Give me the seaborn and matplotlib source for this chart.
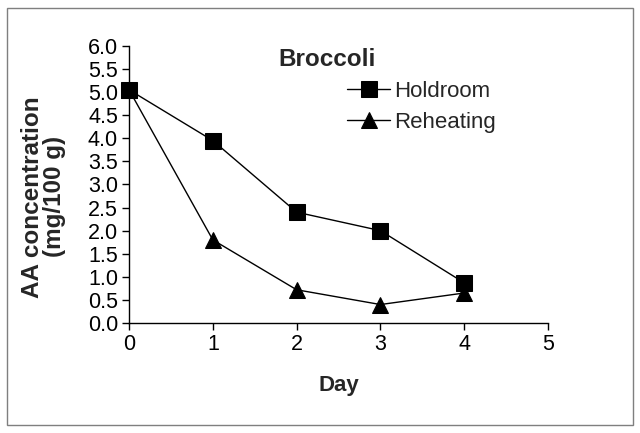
import pandas as pd
import numpy as np
import matplotlib.pyplot as plt
import seaborn as sns
from matplotlib.patches import Rectangle

sns.set_style('white')
plt.rcParams['font.family'] = ['Liberation Sans', 'DejaVu Sans']

days = [0, 1, 2, 3, 4]
holdroom = [5.05, 3.95, 2.40, 2.00, 0.87]
reheating = [5.05, 1.80, 0.72, 0.40, 0.65]
series_names = ['Holdroom', 'Reheating']
series_markers = ['s', '^']

df = pd.DataFrame({
    'Day': days * 2,
    'AA': holdroom + reheating,
    'Treatment': [series_names[0]] * len(days) + [series_names[1]] * len(days),
})

fig = plt.figure(figsize=(6.4, 4.33), dpi=100)
ax = fig.add_axes([0.2016, 0.254, 0.6547, 0.640])

# one line per treatment, black with filled markers
for name, mk in zip(series_names, series_markers):
    sub = df[df['Treatment'] == name]
    sns.lineplot(data=sub, x='Day', y='AA', ax=ax, color='black', lw=1,
                 marker=mk, markersize=11.5, markeredgecolor='black',
                 label=name, clip_on=False)

ax.set_xlim(0, 5)
ax.set_ylim(0, 6)
ax.set_xticks(range(0, 6))
ax.set_yticks(np.arange(0, 6.01, 0.5))
ax.set_yticklabels([f'{v:.1f}' for v in np.arange(0, 6.01, 0.5)])
ax.tick_params(axis='both', direction='out', length=5, width=1, labelsize=15.5,
               color='black', labelcolor='black', left=True, bottom=True, pad=3)
sns.despine(ax=ax)
for s in ['left', 'bottom']:
    ax.spines[s].set_color('black')
    ax.spines[s].set_linewidth(1)

ax.set_xlabel('Day', fontsize=16, fontweight='bold', labelpad=14)
ax.set_ylabel('AA concentration\n(mg/100 g)', fontsize=17.5, fontweight='bold',
              linespacing=0.95)
ax.yaxis.set_label_coords(-0.15, 0.455)

ax.text(0.4726, 0.95, 'Broccoli', transform=ax.transAxes, fontsize=17.5,
        fontweight='bold', ha='center', va='center')

ax.legend(loc='upper left', bbox_to_anchor=(0.5, 0.905), frameon=False,
          fontsize=16, handlelength=1.9, handletextpad=0.2, labelspacing=0.45,
          borderaxespad=0)

fig.patches.append(Rectangle((0.011, 0.018), 0.978, 0.963, transform=fig.transFigure,
                             fill=False, edgecolor='#7f7f7f', lw=1))

fig.savefig('out.png', dpi=100)
